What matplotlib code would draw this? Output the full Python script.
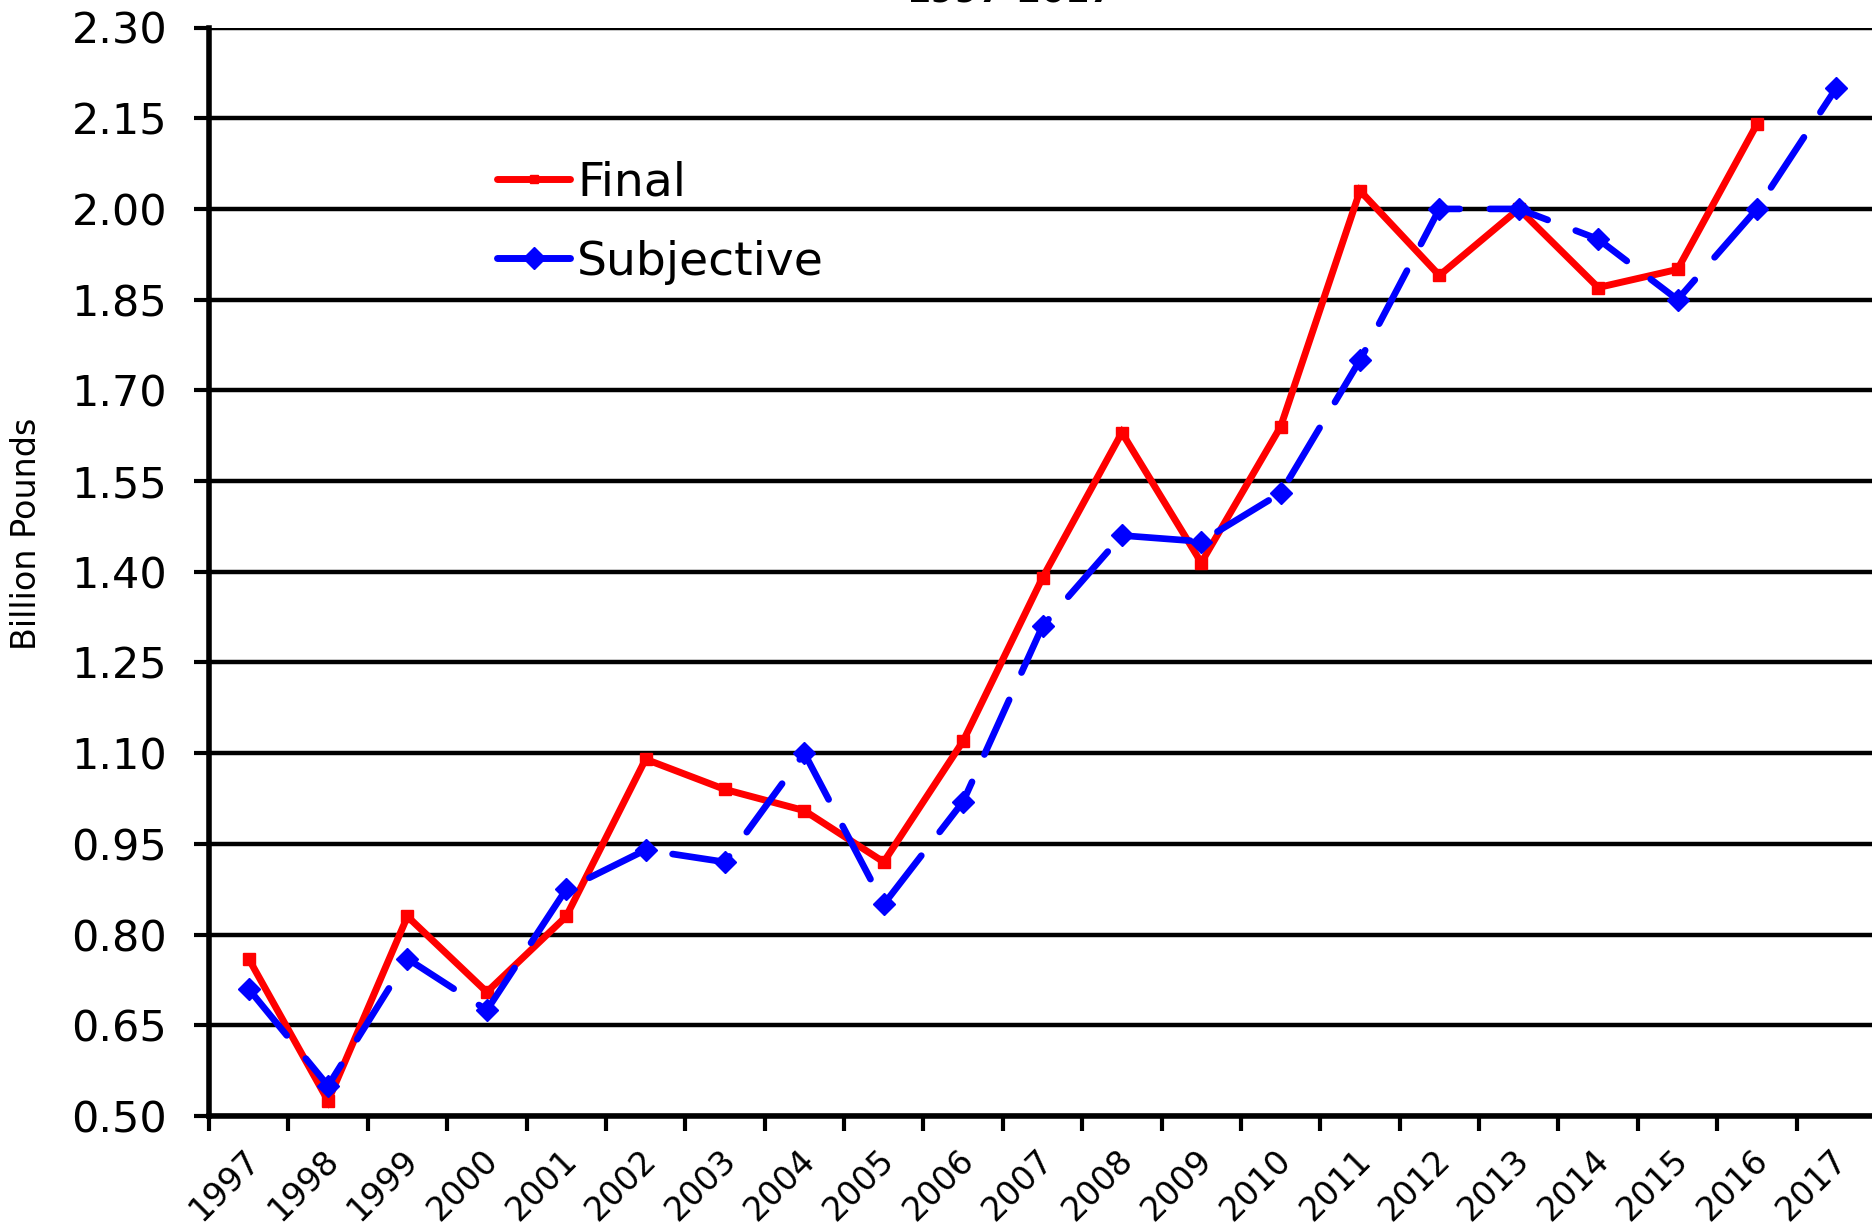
import matplotlib
matplotlib.use("Agg")
import matplotlib.pyplot as plt
from matplotlib.lines import Line2D
import matplotlib.transforms as mtransforms
import numpy as np

years = [str(y) for y in range(1997, 2018)]
final = [0.76, 0.525, 0.83, 0.705, 0.83, 1.09, 1.04, 1.005, 0.92, 1.12, 1.39,
         1.63, 1.415, 1.64, 2.03, 1.89, 2.00, 1.87, 1.90, 2.14, np.nan]
subjective = [0.71, 0.55, 0.76, 0.675, 0.875, 0.94, 0.92, 1.10, 0.85, 1.02, 1.31,
              1.46, 1.45, 1.53, 1.75, 2.00, 2.00, 1.95, 1.85, 2.00, 2.20]
yticks = [0.50, 0.65, 0.80, 0.95, 1.10, 1.25, 1.40, 1.55, 1.70, 1.85, 2.00, 2.15, 2.30]
title = "1997-2017"
ylabel = "Billion Pounds"

plt.rcParams['font.family'] = ['DejaVu Sans']

fig = plt.figure(figsize=(18.72, 12.30), dpi=100)
ax = fig.add_axes([209/1872, 1 - 1116/1230, (1876 - 209)/1872, (1116 - 27.5)/1230])

x = np.arange(len(years))
ax.plot(x, final, color='#ff0000', lw=5, marker='s', markersize=8,
        solid_joinstyle='miter', zorder=3)
ax.plot(x, subjective, color='#0000ff', lw=4.8, marker='D', markersize=11,
        dashes=(9, 4.5), dash_capstyle='round', zorder=4)

ax.set_xlim(-0.5, len(years) - 0.5)
ax.set_ylim(yticks[0], yticks[-1])
ax.set_yticks(yticks)
ax.set_yticklabels([f"{v:.2f}" for v in yticks], fontsize=31)
ax.yaxis.grid(True, color='black', lw=3.2)
ax.set_axisbelow(True)
ax.tick_params(axis='y', length=11, width=3, pad=19, colors='black')

ax.set_xticks(x)
ax.set_xticklabels(years, fontsize=24, rotation=45, ha='right', va='top',
                   rotation_mode='anchor')
ax.tick_params(axis='x', which='major', length=0, pad=20)
offset = mtransforms.ScaledTranslation(-6 / 100, 0, fig.dpi_scale_trans)
for lab in ax.get_xticklabels():
    lab.set_transform(lab.get_transform() + offset)
ax.set_xticks(np.arange(-0.5, len(years) + 0.5, 1), minor=True)
ax.tick_params(axis='x', which='minor', length=11, width=3, direction='out')

for s in ['left', 'bottom']:
    ax.spines[s].set_linewidth(4)
for s in ['right', 'top']:
    ax.spines[s].set_visible(False)

ax.set_ylabel(ylabel, fontsize=24)
ax.yaxis.set_label_coords(-(209 - 43) / (1876 - 209), 1 - (534 - 27.5) / (1116 - 27.5))

handles = [Line2D([], [], color='#ff0000', lw=5, marker='s', markersize=6,
                  solid_capstyle='round'),
           Line2D([], [], color='#0000ff', lw=5, marker='D', markersize=11,
                  solid_capstyle='round')]
leg = ax.legend(handles, ['Final', 'Subjective'], loc='upper left',
                bbox_to_anchor=((497 - 209) / 1667, 1 - (161 - 27.5) / 1088.5),
                frameon=False, fontsize=34, handlelength=1.55, handletextpad=0.15,
                labelspacing=0.72, borderaxespad=0, borderpad=0)

fig.text(1010 / 1872, 1 - 1 / 1230, title, ha='center', va='baseline',
         fontsize=25, fontweight='bold')

fig.savefig('out.png', dpi=100)
